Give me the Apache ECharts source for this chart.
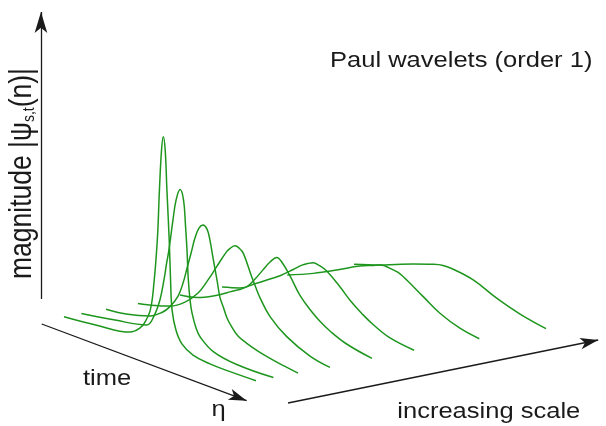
<!DOCTYPE html>
<html>
<head>
<meta charset="utf-8">
<script src="https://cdn.jsdelivr.net/npm/echarts@6/dist/echarts.min.js"></script>
<style>html,body{margin:0;padding:0;background:#fff}#c{width:606px;height:426px}</style>
</head>
<body>
<div id="c"></div>
<script>
// ---- data ----
// wavelet scales (smallest to largest)
const scaleNames = ['s1', 's2', 's3', 's4', 's5', 's6', 's7', 's8'];
// position of each wavelet along the "increasing scale" axis (0..1)
const scalePos = [0, 0.06, 0.145, 0.255, 0.40, 0.545, 0.77, 1.0];
// [eta (fraction of the time window), |psi| (relative to the smallest-scale peak)]
const psiScale1 = [[0,0],[0.170,0.011],[0.344,0.031],[0.396,0.066],[0.422,0.102],[0.448,0.161],[0.465,0.265],[0.486,0.506],[0.497,0.744],[0.508,0.935],[0.517,1.0],[0.527,0.941],[0.536,0.756],[0.548,0.525],[0.555,0.339],[0.563,0.200],[0.583,0.113],[0.615,0.056],[0.672,0.022],[0.760,0.007],[0.865,0.002],[1.0,0]];
const psiScale2 = [[0,0],[0.175,0.022],[0.340,0.049],[0.378,0.102],[0.409,0.187],[0.430,0.287],[0.444,0.371],[0.456,0.436],[0.477,0.583],[0.493,0.681],[0.514,0.737],[0.532,0.693],[0.542,0.579],[0.550,0.464],[0.557,0.325],[0.566,0.234],[0.576,0.176],[0.597,0.112],[0.618,0.077],[0.687,0.028],[0.809,0.004],[1.0,0]];
const psiScale3 = [[0,0],[0.114,0.010],[0.229,0.037],[0.291,0.072],[0.333,0.112],[0.375,0.174],[0.401,0.243],[0.422,0.320],[0.443,0.397],[0.463,0.473],[0.484,0.526],[0.505,0.547],[0.526,0.534],[0.541,0.487],[0.559,0.399],[0.578,0.310],[0.593,0.235],[0.611,0.193],[0.630,0.148],[0.654,0.114],[0.687,0.080],[0.733,0.060],[0.791,0.041],[0.854,0.026],[0.927,0.012],[1.0,0]];
const psiScale4 = [[0,0],[0.089,0.017],[0.167,0.038],[0.245,0.080],[0.313,0.143],[0.365,0.220],[0.410,0.296],[0.462,0.382],[0.482,0.405],[0.505,0.422],[0.529,0.417],[0.549,0.400],[0.592,0.304],[0.615,0.257],[0.636,0.217],[0.688,0.145],[0.775,0.077],[0.896,0.022],[1.0,0]];
const psiScale5 = [[0,0.004],[0.089,0.019],[0.173,0.052],[0.260,0.097],[0.347,0.147],[0.391,0.197],[0.432,0.252],[0.469,0.300],[0.504,0.332],[0.536,0.312],[0.573,0.266],[0.625,0.190],[0.682,0.135],[0.730,0.099],[0.781,0.070],[0.868,0.035],[1.0,0.007]];
const psiScale6 = [[0,0.006],[0.093,0.030],[0.180,0.078],[0.250,0.119],[0.302,0.150],[0.371,0.200],[0.416,0.234],[0.445,0.250],[0.475,0.263],[0.505,0.260],[0.545,0.245],[0.614,0.192],[0.672,0.140],[0.729,0.100],[0.788,0.066],[0.875,0.030],[1.0,0.010]];
const psiScale7 = [[0,0.008],[0.135,0.056],[0.257,0.108],[0.379,0.164],[0.441,0.185],[0.483,0.200],[0.509,0.203],[0.535,0.200],[0.577,0.193],[0.622,0.171],[0.708,0.119],[0.795,0.067],[0.899,0.028],[1.0,0.009]];
const psiScale8 = [[0,0.002],[0.135,0.039],[0.219,0.067],[0.309,0.096],[0.413,0.126],[0.464,0.136],[0.517,0.134],[0.621,0.115],[0.743,0.066],[0.865,0.028],[1.0,0]];
const curves = [psiScale1, psiScale2, psiScale3, psiScale4, psiScale5, psiScale6, psiScale7, psiScale8];

// ---- oblique projection of (eta, scale, magnitude) onto the plane ----
const ORIGIN = [64, 316.7];
const ETA_VEC = [192, 64];
const SCALE_VEC = [290, -52];
const MAG_VEC = [0, -213];
function proj(eta, s, m) {
  return [
    ORIGIN[0] + eta * ETA_VEC[0] + s * SCALE_VEC[0] + m * MAG_VEC[0],
    ORIGIN[1] + eta * ETA_VEC[1] + s * SCALE_VEC[1] + m * MAG_VEC[1]
  ];
}

// axis arrows in (eta, scale, magnitude) space: [tail, tip]
const magAxis = [[-0.12, 0, 0.047], [-0.12, 0, 1.394]];
const timeAxis = [[0.0335, -0.0991, 0], [1.186, -0.1554, 0]];
const scaleAxis = [[1.285, -0.0783, 0], [1.210, 1.041, 0]];

function arrow(def) {
  return { coords: [proj(...def[0]), proj(...def[1])] };
}

const GREEN = '#1e961e';
const INK = '#1a1a1a';
const FONT = '"Liberation Sans", Arial, Helvetica, sans-serif';
const STRETCH = 1.16;

const series = curves.map((c, i) => ({
  type: 'line',
  name: scaleNames[i],
  data: c.map(([eta, m]) => proj(eta, scalePos[i], m)),
  showSymbol: false,
  symbol: 'none',
  smooth: 0.4,
  clip: false,
  silent: true,
  lineStyle: { color: GREEN, width: 1.5 },
  z: 3
}));

series.push({
  type: 'lines',
  coordinateSystem: 'cartesian2d',
  symbol: ['none', 'arrow'],
  symbolSize: [[1, 1], [9.5, 21]],
  silent: true,
  lineStyle: { color: INK, width: 1.3, opacity: 1, curveness: 0 },
  data: [arrow(magAxis)],
  z: 2
});
series.push({
  type: 'lines',
  coordinateSystem: 'cartesian2d',
  symbol: ['none', 'arrow'],
  symbolSize: [[1, 1], [8.5, 18]],
  silent: true,
  lineStyle: { color: INK, width: 1.3, opacity: 1, curveness: 0 },
  data: [arrow(timeAxis), arrow(scaleAxis)],
  z: 2
});

function label(text, x, y, size, extra) {
  return Object.assign({
    type: 'text', x: x, y: y, scaleX: STRETCH, silent: true,
    style: {
      text: text, fontSize: size, fontFamily: FONT, fill: INK,
      align: 'left', verticalAlign: 'middle', textAlign: 'left', textVerticalAlign: 'middle'
    }
  }, extra || {});
}

const option = {
  animation: false,
  backgroundColor: '#ffffff',
  grid: { left: 0, right: 0, top: 0, bottom: 0 },
  xAxis: { type: 'value', min: 0, max: 606, show: false },
  yAxis: { type: 'value', min: 0, max: 426, inverse: true, show: false },
  series: series,
  graphic: [
    label('Paul wavelets (order 1)', 330, 61, 22),
    label('time', 83, 379, 22),
    label('η', 211.5, 409.5, 22),
    label('increasing scale', 397.3, 411.5, 22),
    {
      type: 'text', x: 22.3, y: 279, rotation: Math.PI / 2, scaleY: STRETCH, silent: true,
      style: {
        text: 'magnitude |ψ{sub|s,t}(n)|',
        fontSize: 26.5, fontFamily: FONT, fill: INK,
        align: 'left', verticalAlign: 'middle', textAlign: 'left', textVerticalAlign: 'middle',
        rich: { sub: { fontSize: 14, fontFamily: FONT, fill: INK, verticalAlign: 'bottom' } }
      }
    }
  ]
};

const chart = echarts.init(document.getElementById('c'), null, { renderer: 'canvas', width: 606, height: 426 });
chart.setOption(option);
</script>
</body>
</html>
